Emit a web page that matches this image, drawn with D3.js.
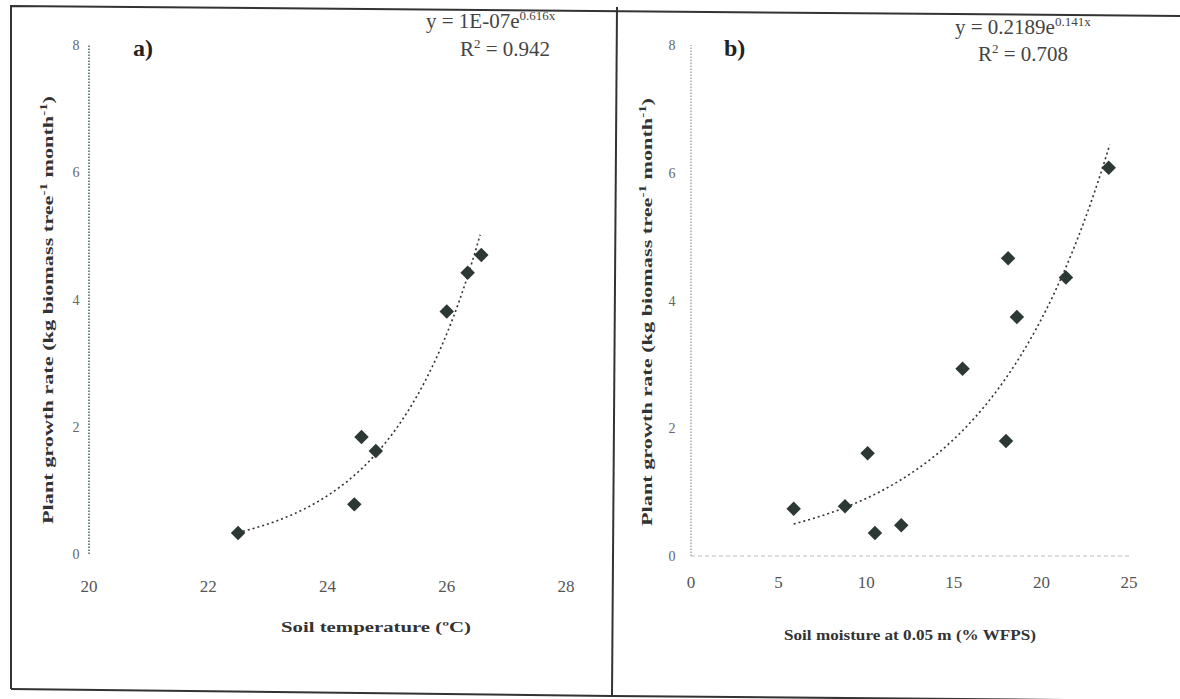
<!DOCTYPE html>
<html><head><meta charset="utf-8">
<script src="https://cdn.jsdelivr.net/npm/d3@7"></script>
<style>body{margin:0;background:#fff}svg{display:block}text{font-family:"Liberation Serif","DejaVu Serif",serif}</style>
</head><body>
<svg id="c" width="1180" height="699"></svg>
<script>
// Panel a: soil temperature
const tempX = [22.5, 24.45, 24.57, 24.81, 26.0, 26.35, 26.58];
const tempY = [0.33, 0.78, 1.84, 1.62, 3.81, 4.42, 4.70];
const trendA = [1.1e-7, 0.664];      // a, b of y = a e^(bx)
const trendARange = [22.5, 26.56];
const ticksAX = [20, 22, 24, 26, 28];
const ticksAY = [0, 2, 4, 6, 8];
// Panel b: soil moisture
const moistX = [5.86, 8.79, 10.5, 12.0, 10.08, 15.5, 17.98, 18.1, 18.6, 21.4, 23.84];
const moistY = [0.74, 0.78, 0.36, 0.48, 1.61, 2.93, 1.80, 4.66, 3.74, 4.36, 6.08];
const trendB = [0.2189, 0.1415];
const trendBRange = [5.86, 23.9];
const ticksBX = [0, 5, 10, 15, 20, 25];
const ticksBY = [0, 2, 4, 6, 8];

const svg = d3.select("#c");
// frame
svg.append("path").attr("d","M11,689 L11,6 L1180,16").attr("fill","none").attr("stroke","#333").attr("stroke-width",2);
svg.append("path").attr("d","M11,689 L612,696 L1180,701").attr("fill","none").attr("stroke","#333").attr("stroke-width",2);
svg.append("line").attr("x1",617).attr("y1",7).attr("x2",612).attr("y2",696).attr("stroke","#333").attr("stroke-width",2);

function panel(o){
  const x = d3.scaleLinear().domain(o.xd).range(o.xr);
  const y = d3.scaleLinear().domain(o.yd).range(o.yr);
  const g = svg.append("g");
  // y axis line
  g.append("line").attr("x1",x(o.xd[0])).attr("x2",x(o.xd[0])).attr("y1",y(o.yd[0])).attr("y2",y(o.yd[1]))
    .attr("stroke",o.yAxisColor).attr("stroke-width",1.3).attr("stroke-dasharray","1.5,1.5");
  if(o.xAxisLine){
    g.append("line").attr("x1",x(o.xd[0])).attr("x2",x(o.xd[1])).attr("y1",y(0)).attr("y2",y(0))
      .attr("stroke","#bbb").attr("stroke-width",1).attr("stroke-dasharray","4,3");
  }
  // tick labels
  g.selectAll(".yt").data(o.yt).join("text").attr("x",x(o.xd[0])-o.ylabOff).attr("y",d=>y(d)+5)
    .attr("text-anchor","middle").attr("font-size",14).attr("fill","#666").text(d=>d);
  g.selectAll(".xt").data(o.xt).join("text").attr("x",d=>x(d)).attr("y",o.xtY)
    .attr("text-anchor","middle").attr("font-size",17).attr("fill","#555").text(d=>d);
  // trend
  const [a,b] = o.trend;
  const pts = d3.range(o.trendRange[0], o.trendRange[1]+1e-9, (o.trendRange[1]-o.trendRange[0])/60);
  pts.push(o.trendRange[1]);
  g.append("path").datum(pts).attr("fill","none").attr("stroke","#333").attr("stroke-width",1.6)
    .attr("stroke-dasharray","2,3")
    .attr("d", d3.line().x(d=>x(d)).y(d=>y(a*Math.exp(b*d))).curve(d3.curveMonotoneX));
  // points
  g.selectAll(".pt").data(o.px.map((v,i)=>[v,o.py[i]])).join("path")
    .attr("d", d3.symbol(d3.symbolSquare, 105)())
    .attr("transform", d=>`translate(${x(d[0])},${y(d[1])}) rotate(45)`)
    .attr("fill","#2b3834");
  // labels
  g.append("text").attr("transform",`translate(${o.ylx},${o.yly}) rotate(-90)`).attr("text-anchor","middle")
    .attr("font-size",15).attr("font-weight","bold").attr("fill","#333")
    .attr("textLength",o.ylLen).attr("lengthAdjust","spacingAndGlyphs")
    .text("Plant  growth rate (kg biomass tree").append("tspan").attr("font-size",10).attr("dy",-6).text("-1")
    .select(function(){return this.parentNode;}).append("tspan").attr("dy",6).text(" month")
    .select(function(){return this.parentNode;}).append("tspan").attr("font-size",10).attr("dy",-6).text("-1")
    .select(function(){return this.parentNode;}).append("tspan").attr("dy",6).text(")");
  g.append("text").attr("x",o.xlx).attr("y",o.xly).attr("text-anchor","middle").attr("font-size",15)
    .attr("font-weight","bold").attr("fill","#333").attr("textLength",o.xlLen).attr("lengthAdjust","spacingAndGlyphs").text(o.xlab);
  g.append("text").attr("x",o.tagX).attr("y",56).attr("font-size",24).attr("font-weight","bold").attr("fill","#222").text(o.tag);
  const eq = g.append("text").attr("x",o.eqX).attr("y",o.eqY).attr("font-size",21).attr("fill","#444");
  eq.append("tspan").text(o.eq1);
  eq.append("tspan").attr("font-size",13).attr("dy",-8).text(o.eqExp);
  g.append("text").attr("x",o.r2X).attr("y",o.r2Y).attr("font-size",21).attr("fill","#444")
    .text("R").append("tspan").attr("font-size",13).attr("dy",-8).text("2")
    .select(function(){return this.parentNode;}).append("tspan").attr("dy",8).text(" = "+o.r2);
}

panel({xd:[20,28], xr:[89,566], yd:[0,8], yr:[554,45], yAxisColor:"#2d4a3c", xAxisLine:false,
  xt:ticksAX, yt:ticksAY, xtY:592, ylabOff:13, px:tempX, py:tempY, trend:trendA, trendRange:trendARange,
  ylx:53, yly:310, ylLen:428, xlx:376, xly:632, xlLen:190, xlab:"Soil temperature (ºC)",
  tag:"a)", tagX:133, eq1:"y = 1E-07e", eqExp:"0.616x", eqX:426, eqY:28, r2X:460, r2Y:56, r2:"0.942"});

panel({xd:[0,25], xr:[691,1129], yd:[0,8], yr:[556,45], yAxisColor:"#999", xAxisLine:true,
  xt:ticksBX, yt:ticksBY, xtY:588, ylabOff:19, px:moistX, py:moistY, trend:trendB, trendRange:trendBRange,
  ylx:652, yly:312, ylLen:428, xlx:910, xly:640, xlLen:252, xlab:"Soil moisture at 0.05 m (% WFPS)",
  tag:"b)", tagX:724, eq1:"y = 0.2189e", eqExp:"0.141x", eqX:955, eqY:34, r2X:978, r2Y:61, r2:"0.708"});
</script>
</body></html>
